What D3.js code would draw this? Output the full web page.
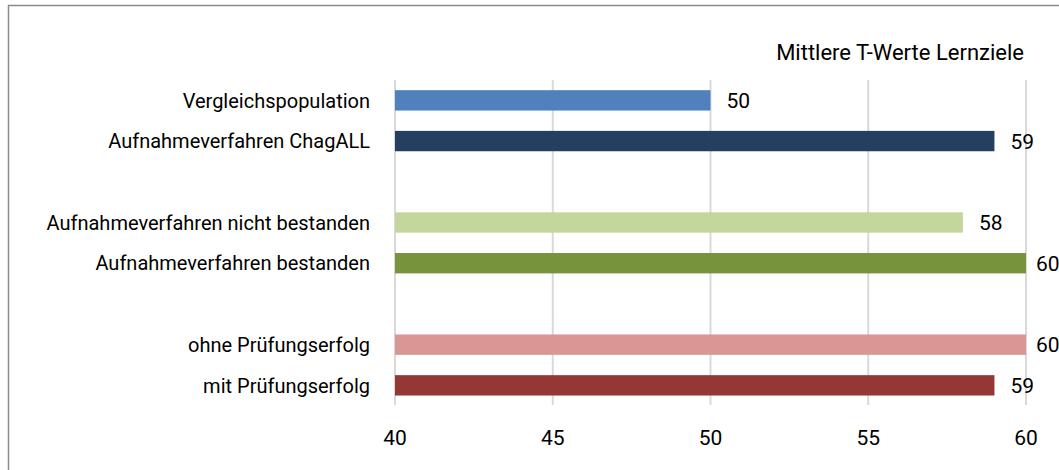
<!DOCTYPE html>
<html>
<head>
<meta charset="utf-8">
<script src="https://cdn.jsdelivr.net/npm/d3@7"></script>
<style>
  body { margin: 0; background: #fff; }
  text { fill: #000; font-family: Roboto, "Liberation Sans", sans-serif; }
</style>
</head>
<body>
<script>
// Kategorien (leere Einträge = Abstände zwischen den Gruppen)
const categories = ['Vergleichspopulation', 'Aufnahmeverfahren ChagALL', 'gap1',
  'Aufnahmeverfahren nicht bestanden', 'Aufnahmeverfahren bestanden', 'gap2',
  'ohne Prüfungserfolg', 'mit Prüfungserfolg'];
const values = [50, 59, null, 58, 60, null, 60, 59];
const colors = ['#4f81bd', '#243f60', null, '#c3d69b', '#77933c', null, '#d99694', '#953735'];
const ticks = [40, 45, 50, 55, 60];
const title = 'Mittlere T-Werte Lernziele';

const W = 1059, H = 470;
const svg = d3.select('body').append('svg')
  .attr('width', W).attr('height', H);

// chart frame
svg.append('rect')
  .attr('x', 8.5).attr('y', 5.5)
  .attr('width', 1200).attr('height', 600)
  .attr('fill', 'none').attr('stroke', '#8c8c8c').attr('stroke-width', 1.5);

const x = d3.scaleLinear().domain([40, 60]).range([395, 1026]);
const y = d3.scaleBand().domain(categories).range([80, 405.7])
  .paddingInner(0.5).paddingOuter(0.25);

// gridlines
svg.append('g').selectAll('line')
  .data(ticks)
  .join('line')
  .attr('x1', d => x(d)).attr('x2', d => x(d))
  .attr('y1', 80).attr('y2', 405)
  .attr('stroke', '#d9d9d9').attr('stroke-width', 2);

// bars
const rows = categories.map((c, i) => ({c, v: values[i], col: colors[i]})).filter(d => d.v != null);
svg.append('g').selectAll('rect')
  .data(rows)
  .join('rect')
  .attr('x', x(40))
  .attr('y', d => y(d.c))
  .attr('width', d => x(d.v) - x(40))
  .attr('height', y.bandwidth())
  .attr('fill', d => d.col);

// value labels (pushed inside the frame when near the edge)
svg.append('g').selectAll('text')
  .data(rows)
  .join('text')
  .attr('x', d => Math.min(x(d.v) + 16, 1036))
  .attr('y', d => y(d.c) + y.bandwidth() / 2)
  .attr('dy', '0.36em')
  .style('font-size', '21px')
  .text(d => d.v);

// category labels
svg.append('g').selectAll('text')
  .data(rows)
  .join('text')
  .attr('x', 370)
  .attr('y', d => y(d.c) + y.bandwidth() / 2)
  .attr('dy', '0.36em')
  .attr('text-anchor', 'end')
  .style('font-size', '20px')
  .text(d => d.c);

// x axis labels
svg.append('g').selectAll('text')
  .data(ticks)
  .join('text')
  .attr('x', d => x(d))
  .attr('y', 437)
  .attr('dy', '0.36em')
  .attr('text-anchor', 'middle')
  .style('font-size', '21px')
  .text(d => d);

// title
svg.append('text')
  .attr('x', 1024).attr('y', 52)
  .attr('dy', '0.36em')
  .attr('text-anchor', 'end')
  .style('font-size', '22px')
  .text(title);
</script>
</body>
</html>
